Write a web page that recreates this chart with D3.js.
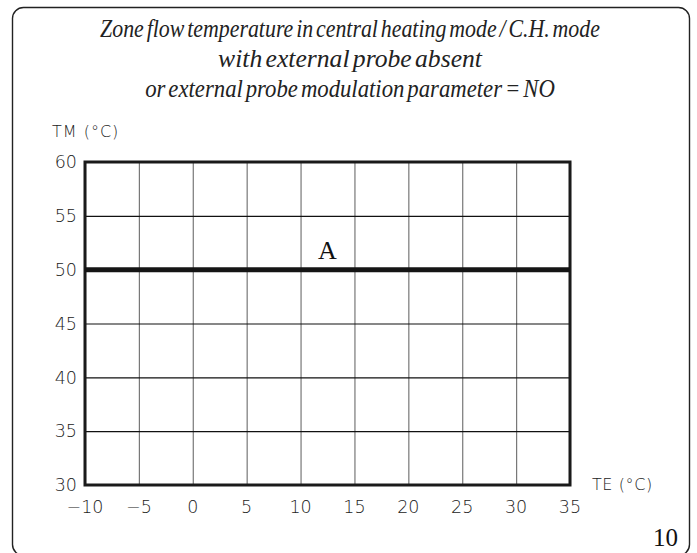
<!DOCTYPE html>
<html><head><meta charset="utf-8">
<script src="https://cdn.jsdelivr.net/npm/d3@7"></script>
<style>
html,body{margin:0;padding:0;background:#fff;overflow:hidden}
svg{display:block}
</style></head><body>
<script>
const titleLines = ["Zone flow temperature in central heating mode / C.H. mode", "with external probe absent", "or external probe modulation parameter = NO"];
const xTicks = [-10, -5, 0, 5, 10, 15, 20, 25, 30, 35];
const yTicks = [30, 35, 40, 45, 50, 55, 60];
const seriesTE = [-10, 35];
const seriesTM = [50, 50];
const seriesLabel = "A";
const labelTE = 12.5;
const yAxisTitle = "TM (°C)";
const xAxisTitle = "TE (°C)";
const figureNumber = "10";

const W = 697, H = 553;
const svg = d3.select("body").append("svg").attr("width", W).attr("height", H);

// frame (bottom cut off)
svg.append("rect").attr("x", 12.5).attr("y", 7.5).attr("width", 677).attr("height", 548)
  .attr("rx", 11).attr("ry", 11).attr("fill", "none").attr("stroke", "#222").attr("stroke-width", 1.4);

// title: each line scaled horizontally to its measured width
const titleY = [37, 67, 97];
const titleW = [500, 264, 410];
titleLines.forEach((line, i) => {
  const gl = svg.append("g");
  const t = gl.append("text").attr("x", 0).attr("y", titleY[i]).attr("text-anchor", "middle")
    .style("font-family", "'Liberation Serif', serif").style("font-style", "italic")
    .style("font-size", "25px").style("word-spacing", "-3px").attr("fill", "#222").text(line);
  const k = titleW[i] / t.node().getComputedTextLength();
  gl.attr("transform", `translate(350,0) scale(${k},1)`);
});

const x = d3.scaleLinear().domain([-10, 35]).range([85, 570]);
const y = d3.scaleLinear().domain([30, 60]).range([485, 162]);

const g = svg.append("g");
// vertical grid
g.append("g").attr("transform", `translate(0,${y(30)})`)
  .call(d3.axisBottom(x).tickValues(xTicks).tickSize(-(y(30) - y(60))).tickFormat(""))
  .call(s => s.select(".domain").remove())
  .call(s => s.selectAll(".tick line").attr("stroke", "#777").attr("stroke-width", 1.2));
// horizontal grid
g.append("g").attr("transform", `translate(${x(-10)},0)`)
  .call(d3.axisLeft(y).tickValues(yTicks).tickSize(-(x(35) - x(-10))).tickFormat(""))
  .call(s => s.select(".domain").remove())
  .call(s => s.selectAll(".tick line").attr("stroke", "#111").attr("stroke-width", 1.1));

// frame of plot
g.append("rect").attr("x", x(-10)).attr("y", y(60)).attr("width", x(35) - x(-10)).attr("height", y(30) - y(60))
  .attr("fill", "none").attr("stroke", "#1a1a1a").attr("stroke-width", 3);

// series line
const pts = seriesTE.map((t, i) => [t, seriesTM[i]]);
g.append("path").attr("d", d3.line().x(d => x(d[0])).y(d => y(d[1]))(pts))
  .attr("fill", "none").attr("stroke", "#151515").attr("stroke-width", 5);

g.append("text").attr("x", x(labelTE)).attr("y", y(50) - 11).attr("text-anchor", "middle")
  .style("font-family", "'Liberation Serif', serif").style("font-size", "26px").attr("fill", "#111")
  .text(seriesLabel);

const sans = "'DejaVu Sans', sans-serif";
// y tick labels
svg.selectAll("text.yt").data(yTicks).join("text").attr("class", "yt")
  .attr("x", 77).attr("y", d => y(d)).attr("dy", "0.36em").attr("text-anchor", "end")
  .style("font-family", sans).style("font-weight", "200").style("font-size", "17.5px").attr("fill", "#222")
  .text(d => d);
// x tick labels
svg.selectAll("text.xt").data(xTicks).join("text").attr("class", "xt")
  .attr("x", d => x(d)).attr("y", 507).attr("dy", "0.36em").attr("text-anchor", "middle")
  .style("font-family", sans).style("font-weight", "200").style("font-size", "17.5px").attr("fill", "#222")
  .text(d => d < 0 ? "\u2212" + Math.abs(d) : d);

svg.append("text").attr("x", 52).attr("y", 137)
  .style("font-family", sans).style("font-weight", "200").style("font-size", "16px").style("letter-spacing", "1px").attr("fill", "#222")
  .text(yAxisTitle);
svg.append("text").attr("x", 592).attr("y", 490)
  .style("font-family", sans).style("font-weight", "200").style("font-size", "16px").style("letter-spacing", "0.6px").attr("fill", "#222")
  .text(xAxisTitle);

svg.append("text").attr("x", 678).attr("y", 546).attr("text-anchor", "end")
  .style("font-family", "'Liberation Serif', serif").style("font-size", "25px").attr("fill", "#111")
  .text(figureNumber);
</script>
</body></html>
